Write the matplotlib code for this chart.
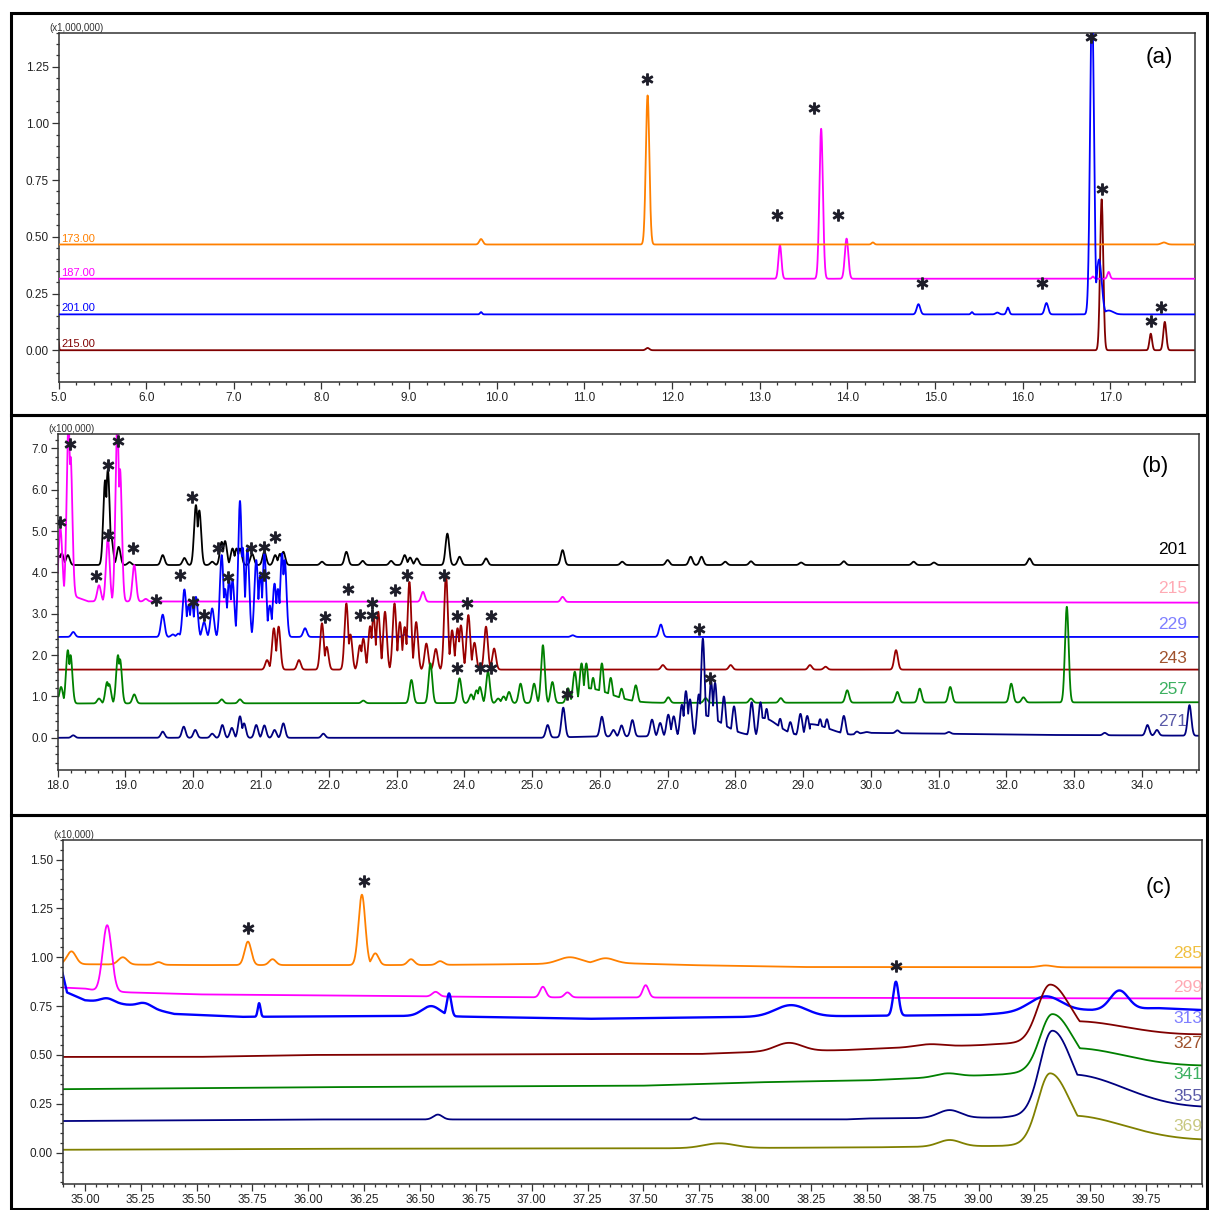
import numpy as np
import matplotlib
matplotlib.use("Agg")
import matplotlib.pyplot as plt
from matplotlib.patches import Rectangle
from matplotlib.ticker import MultipleLocator, FixedLocator, FormatStrFormatter

plt.rcParams['font.family'] = ['Liberation Sans Narrow', 'Liberation Sans', 'DejaVu Sans']

# ---------------- panel (a): m/z 173-215, x1,000,000 ----------------
a_channels = ['173.00', '187.00', '201.00', '215.00']
a_colors = ['#ff8000', '#ff00ff', '#0000ff', '#800000']
a_base = [0.466, 0.315, 0.158, 0.0]
# (retention time, apex signal, sigma[, sigma right])
a_peaks = [
    [(9.82, 0.49, 0.02), (11.72, 1.123, 0.02), (14.29, 0.475, 0.015), (17.61, 0.475, 0.03)],
    [(13.23, 0.463, 0.017), (13.70, 0.976, 0.02), (13.99, 0.492, 0.02),
     (16.80, 0.325, 0.012), (16.98, 0.345, 0.015)],
    [(9.82, 0.168, 0.012), (14.81, 0.203, 0.02), (15.42, 0.168, 0.012), (15.71, 0.166, 0.02),
     (15.83, 0.188, 0.015), (16.27, 0.208, 0.02), (16.79, 1.55, 0.022), (16.87, 0.40, 0.03),
     (16.98, 0.175, 0.05)],
    [(5.0, 0.04, 0.005), (11.72, 0.01, 0.02), (16.90, 0.665, 0.018), (17.46, 0.073, 0.015),
     (17.62, 0.125, 0.017)],
]
a_stars_x = [11.71, 13.62, 13.20, 13.89, 14.85, 16.22, 16.78, 16.90, 17.46, 17.58]
a_stars_y = [1.194, 1.069, 0.595, 0.595, 0.295, 0.295, 1.379, 0.712, 0.129, 0.191]

# ---------------- panel (b): m/z 201-271, x100,000 ----------------
b_channels = ['201', '215', '229', '243', '257', '271']
b_colors = ['#000000', '#ff00ff', '#0000ff', '#990000', '#008000', '#000080']
b_label_colors = ['#000000', '#ffaab4', '#7f7fff', '#a0522d', '#3cb060', '#5a5aa8']
b_knots = [
    [(18.0, 4.18), (34.84, 4.18)],
    [(18.0, 3.45), (18.2, 3.45), (18.45, 3.30), (34.84, 3.27)],
    [(18.0, 2.44), (34.84, 2.44)],
    [(18.0, 1.65), (34.84, 1.65)],
    [(18.0, 0.83), (24.0, 0.84), (34.84, 0.86)],
    [(18.0, 0.0), (25.1, 0.0), (25.9, 0.03), (29.7, 0.05), (29.9, 0.12), (31.0, 0.10),
     (32.5, 0.07), (34.84, 0.05)],
]
b_peaks = [
    [(18.02, 4.40), (18.06, 4.46), (18.15, 4.42), (18.70, 6.23), (18.74, 6.48), (18.79, 4.85),
     (18.90, 4.62), (19.06, 4.25), (19.55, 4.42), (19.87, 4.35), (20.04, 5.63), (20.09, 5.50),
     (20.28, 4.26), (20.42, 4.74), (20.47, 4.76), (20.58, 4.58), (20.64, 4.58), (20.69, 4.58),
     (20.87, 4.45), (21.05, 4.50), (21.21, 4.42), (21.28, 4.45), (21.33, 4.50), (21.90, 4.26),
     (22.26, 4.50), (22.50, 4.28), (22.92, 4.28), (23.12, 4.42), (23.20, 4.36), (23.30, 4.34),
     (23.75, 4.94), (23.93, 4.38), (24.32, 4.34), (25.45, 4.54), (26.33, 4.26), (27.00, 4.30),
     (27.34, 4.38), (27.50, 4.38), (27.85, 4.26), (28.23, 4.27), (28.97, 4.24), (29.60, 4.27),
     (30.63, 4.26), (30.93, 4.24), (32.34, 4.34)],
    [(18.04, 5.06), (18.16, 7.6), (18.19, 6.8), (18.61, 3.69), (18.74, 4.82), (18.88, 7.6),
     (18.92, 6.5), (19.13, 4.18), (19.30, 3.36), (23.39, 3.53), (25.45, 3.41)],
    [(18.23, 2.56), (19.55, 2.98), (19.70, 2.50), (19.78, 2.52), (19.87, 3.59), (19.93, 3.20),
     (19.98, 3.29), (20.04, 3.41), (20.16, 2.80), (20.28, 3.13), (20.42, 4.42), (20.47, 3.60),
     (20.53, 3.81), (20.58, 3.80), (20.69, 5.73), (20.73, 4.60), (20.80, 4.58), (20.93, 4.30),
     (20.99, 3.94), (21.05, 4.46), (21.13, 3.20), (21.20, 3.73), (21.25, 3.60), (21.31, 4.46),
     (21.35, 4.30), (21.65, 2.65), (23.12, 2.50), (25.60, 2.48), (26.90, 2.74)],
    [(21.09, 1.88), (21.19, 2.65), (21.26, 2.69), (21.56, 1.88), (21.90, 2.77), (21.97, 2.20),
     (22.26, 3.25), (22.32, 2.50), (22.46, 2.24), (22.51, 2.40), (22.61, 2.70), (22.66, 2.97),
     (22.73, 3.05), (22.83, 3.05), (22.97, 3.25), (23.05, 2.80), (23.12, 2.68), (23.19, 3.77),
     (23.29, 2.80), (23.44, 2.28), (23.58, 2.15), (23.73, 3.94), (23.82, 2.60), (23.90, 2.65),
     (23.95, 2.72), (24.06, 2.97), (24.15, 2.30), (24.32, 2.69), (24.44, 2.16), (26.93, 1.76),
     (27.93, 1.76), (29.10, 1.76), (29.33, 1.72), (30.37, 2.12)],
    [(18.01, 1.00), (18.05, 1.23), (18.15, 2.12), (18.19, 2.00), (18.61, 0.95), (18.73, 1.35),
     (18.76, 1.30), (18.89, 2.00), (18.92, 1.90), (19.13, 1.05), (20.42, 0.93), (20.69, 0.93),
     (22.51, 0.90), (23.22, 1.40), (23.50, 1.80), (23.93, 1.44), (24.10, 1.05), (24.18, 1.15),
     (24.23, 1.23), (24.35, 1.60), (24.50, 0.95), (24.58, 1.00), (24.66, 1.11), (24.83, 1.31),
     (25.03, 1.31), (25.16, 2.24), (25.30, 1.35), (25.53, 1.20), (25.63, 1.60), (25.73, 1.80),
     (25.80, 1.80), (25.90, 1.45), (26.03, 1.80), (26.16, 1.45), (26.32, 1.19), (26.53, 1.27),
     (25.80, 1.20, 0.35), (27.01, 0.98), (27.56, 0.96), (28.23, 0.95), (28.67, 0.96),
     (29.65, 1.15), (30.39, 1.11), (30.72, 1.19), (31.17, 1.23), (32.07, 1.31), (32.25, 0.98),
     (32.89, 3.17)],
    [(18.23, 0.06), (19.55, 0.15), (19.86, 0.27), (20.03, 0.19), (20.28, 0.10), (20.43, 0.31),
     (20.57, 0.24), (20.69, 0.52), (20.75, 0.35), (20.93, 0.31), (21.05, 0.30), (21.20, 0.19),
     (21.33, 0.35), (21.92, 0.10), (25.23, 0.31), (25.46, 0.73), (26.03, 0.51), (26.20, 0.19),
     (26.32, 0.30), (26.48, 0.43), (26.77, 0.44), (26.89, 0.36), (27.01, 0.56), (27.09, 0.52),
     (27.21, 0.80), (27.27, 1.13), (27.33, 0.93), (27.46, 1.05), (27.52, 2.40), (27.64, 1.38),
     (27.70, 1.33), (27.83, 1.00), (27.98, 0.76), (28.24, 0.86), (28.37, 0.86), (28.46, 0.70),
     (28.66, 0.46), (28.81, 0.38), (28.96, 0.58), (29.06, 0.53), (29.25, 0.45), (29.35, 0.45),
     (29.60, 0.53), (29.79, 0.15), (29.94, 0.14), (27.50, 0.55, 0.30), (28.40, 0.48, 0.22),
     (29.10, 0.33, 0.28), (30.39, 0.18), (31.15, 0.14), (33.45, 0.12), (34.08, 0.31),
     (34.22, 0.19), (34.70, 0.79)],
]
b_stars_x = [18.03, 18.18, 18.74, 18.74, 18.89, 18.57, 19.11, 19.45, 19.81, 19.98, 19.99,
             20.16, 20.36, 20.51, 20.86, 21.05, 21.05, 21.21, 21.94, 22.29, 22.46, 22.64,
             22.64, 22.98, 23.15, 23.70, 23.89, 24.04, 24.39, 23.89, 24.23, 24.39, 25.52,
             27.46, 27.63]
b_stars_y = [5.21, 7.10, 6.61, 4.90, 7.18, 3.91, 4.58, 3.33, 3.95, 5.83, 3.29,
             2.98, 4.58, 3.90, 4.58, 4.62, 3.94, 4.86, 2.93, 3.61, 2.98, 2.98,
             3.27, 3.57, 3.95, 3.95, 2.94, 3.27, 2.94, 1.68, 1.68, 1.68, 1.05,
             2.63, 1.44]

# ---------------- panel (c): m/z 285-369, x10,000 ----------------
c_channels = ['285', '299', '313', '327', '341', '355', '369']
c_colors = ['#ff8000', '#ff00ff', '#0000ff', '#800000', '#008000', '#000080', '#808000']
c_label_colors = ['#f0c040', '#ffaab4', '#7f7fff', '#a0522d', '#3cb060', '#5a5aa8', '#c8c880']
c_knots = [
    [(34.9, 0.965), (35.5, 0.96), (36.5, 0.96), (37.0, 0.965), (37.4, 0.97), (37.7, 0.96),
     (38.2, 0.95), (40.0, 0.948)],
    [(34.9, 0.845), (35.0, 0.84), (35.05, 0.83), (35.2, 0.82), (35.5, 0.81), (36.0, 0.805),
     (37.0, 0.795), (40.0, 0.789)],
    [(34.9, 0.92), (34.92, 0.82), (35.0, 0.78), (35.25, 0.75), (35.4, 0.71), (35.7, 0.695),
     (36.5, 0.70), (37.25, 0.685), (38.0, 0.695), (38.5, 0.70), (39.0, 0.705), (39.2, 0.72),
     (39.8, 0.74), (40.0, 0.73)],
    [(34.9, 0.49), (35.5, 0.49), (36.0, 0.50), (37.25, 0.505), (37.75, 0.505), (38.0, 0.515),
     (38.4, 0.525), (38.6, 0.535), (39.0, 0.55), (39.15, 0.56), (40.0, 0.60)],
    [(34.9, 0.325), (36.0, 0.335), (37.0, 0.34), (37.5, 0.343), (38.0, 0.36), (38.5, 0.37),
     (39.1, 0.40), (39.2, 0.41), (40.0, 0.44)],
    [(34.9, 0.162), (35.4, 0.165), (36.0, 0.17), (38.4, 0.17), (38.5, 0.175), (39.1, 0.18),
     (39.2, 0.19), (40.0, 0.225)],
    [(34.9, 0.015), (36.0, 0.02), (37.5, 0.022), (38.5, 0.027), (39.1, 0.035), (39.2, 0.04),
     (40.0, 0.06)],
]
c_peaks = [
    [(34.94, 1.03, 0.02), (35.17, 1.00, 0.02), (35.33, 0.975, 0.015), (35.73, 1.08, 0.015),
     (35.84, 0.99, 0.015), (36.24, 1.32, 0.015), (36.30, 1.02, 0.015), (36.46, 0.99, 0.015),
     (36.59, 0.98, 0.015), (37.17, 1.00, 0.05), (37.33, 0.995, 0.04), (39.30, 0.958, 0.03)],
    [(35.10, 1.164, 0.02), (36.57, 0.823, 0.015), (37.05, 0.849, 0.013), (37.16, 0.82, 0.013),
     (37.51, 0.857, 0.013)],
    [(35.10, 0.79, 0.03), (35.27, 0.765, 0.03), (35.78, 0.765, 0.006), (36.55, 0.75, 0.04),
     (36.63, 0.815, 0.01), (38.16, 0.755, 0.07), (38.63, 0.875, 0.012), (39.30, 0.80, 0.07),
     (39.63, 0.83, 0.04)],
    [(38.15, 0.562, 0.06), (38.78, 0.555, 0.06), (39.32, 0.86, 0.055, 0.09),
     (39.40, 0.672, 0.25)],
    [(38.86, 0.406, 0.05), (39.33, 0.709, 0.055, 0.09), (39.40, 0.535, 0.25)],
    [(36.58, 0.195, 0.02), (37.73, 0.18, 0.01), (38.87, 0.218, 0.05),
     (39.33, 0.624, 0.055, 0.09), (39.40, 0.40, 0.25)],
    [(37.84, 0.048, 0.07), (38.87, 0.065, 0.05), (39.32, 0.406, 0.055, 0.09),
     (39.40, 0.19, 0.25)],
]
c_stars_x = [35.73, 36.25, 38.63]
c_stars_y = [1.15, 1.39, 0.956]


def build_trace(x, knots, peaks, sigma):
    kx = [k[0] for k in knots]
    ky = [k[1] for k in knots]
    base = np.interp(x, kx, ky)
    y = base.copy()
    for p in peaks:
        rt, apex = p[0], p[1]
        sl = p[2] if len(p) > 2 else sigma
        sr = p[3] if len(p) > 3 else sl
        s = np.where(x < rt, sl, sr)
        h = apex - np.interp(rt, kx, ky)
        # tail peaks only lift the trace on the right of the main one
        prof = base + h * np.exp(-0.5 * ((x - rt) / s) ** 2)
        if len(p) == 3 and sl >= 0.2:
            prof = np.where(x < rt, base, prof)
        y = np.maximum(y, prof)
    return y


def style_axes(ax, xlim, ylim, xmaj, xmin, ymaj, ymin, xfmt, yfmt):
    ax.set_xlim(*xlim)
    ax.set_ylim(*ylim)
    ax.xaxis.set_major_locator(FixedLocator(xmaj))
    ax.xaxis.set_minor_locator(MultipleLocator(xmin))
    ax.yaxis.set_major_locator(FixedLocator(ymaj))
    ax.yaxis.set_minor_locator(MultipleLocator(ymin))
    ax.xaxis.set_major_formatter(FormatStrFormatter(xfmt))
    ax.yaxis.set_major_formatter(FormatStrFormatter(yfmt))
    ax.tick_params(which='both', direction='out', color='#333333', width=0.9, labelsize=8.5,
                   labelcolor='#222222', pad=2)
    ax.tick_params(which='major', length=5)
    ax.tick_params(which='minor', length=2.5)
    for sp in ax.spines.values():
        sp.set_color('#333333')
        sp.set_linewidth(1.1)


def stars(ax, sx, sy):
    ax.plot(sx, sy, ls='none', marker='$\\ast$', ms=8, color='#1e1e2a', zorder=5)


fig = plt.figure(figsize=(12.09, 12.10), dpi=100)

# panel frames
for y0, h in [(0.657, 0.3323), (0.3264, 0.3306), (0.0012, 0.3252)]:
    fig.add_artist(Rectangle((0.0091, y0), 0.9892, h, transform=fig.transFigure,
                             fill=False, lw=2.2, ec='black'))

# (a)
ax = fig.add_axes([0.0484, 0.6843, 0.9404, 0.2888])
x = np.linspace(5.0, 17.97, 6000)
for i in range(len(a_channels)):
    knots = [(5.0, a_base[i]), (17.97, a_base[i])]
    y = build_trace(x, knots, a_peaks[i], 0.02)
    ax.plot(x, y, color=a_colors[i], lw=1.3, zorder=4 - i if i != 2 else 4)
    ax.text(5.03, a_base[i] + 0.004, a_channels[i], color=a_colors[i], fontsize=8,
            ha='left', va='bottom')
stars(ax, a_stars_x, a_stars_y)
style_axes(ax, (5.0, 17.97), (-0.14, 1.40), np.arange(5, 18), 0.2,
           [0, 0.25, 0.5, 0.75, 1.0, 1.25], 0.05, '%.1f', '%.2f')
ax.text(-0.008, 1.0, '(x1,000,000)', transform=ax.transAxes, fontsize=7,
        color='#333333', ha='left', va='bottom')
ax.text(0.968, 0.93, '(a)', transform=ax.transAxes, fontsize=16, ha='center', va='center')

# (b)
ax = fig.add_axes([0.0477, 0.3636, 0.9440, 0.2774])
x = np.linspace(18.0, 34.84, 8000)
b_label_y = [4.56, 3.60, 2.75, 1.93, 1.18, 0.40]
for i in range(len(b_channels)):
    y = build_trace(x, b_knots[i], b_peaks[i], 0.027)
    ax.plot(x, y, color=b_colors[i], lw=1.3)
    ax.text(34.67, b_label_y[i], b_channels[i], color=b_label_colors[i],
            fontsize=12.5, ha='right', va='center')
stars(ax, b_stars_x, b_stars_y)
style_axes(ax, (18.0, 34.84), (-0.78, 7.34), np.arange(18, 35), 0.2,
           np.arange(0, 8), 0.2, '%.1f', '%.1f')
ax.text(-0.008, 1.0, '(x100,000)', transform=ax.transAxes, fontsize=7,
        color='#333333', ha='left', va='bottom')
ax.text(0.962, 0.905, '(b)', transform=ax.transAxes, fontsize=16, ha='center', va='center')

# (c)
ax = fig.add_axes([0.0517, 0.0212, 0.9425, 0.2846])
x = np.linspace(34.9, 40.0, 8000)
c_label_y = [1.02, 0.847, 0.689, 0.56, 0.40, 0.29, 0.136]
for i in range(len(c_channels)):
    y = build_trace(x, c_knots[i], c_peaks[i], 0.02)
    ax.plot(x, y, color=c_colors[i], lw=1.7 if i == 2 else 1.3)
for i in range(len(c_channels)):
    ax.text(40.0, c_label_y[i], c_channels[i], color=c_label_colors[i],
            fontsize=12.5, ha='right', va='center', clip_on=False, zorder=6)
stars(ax, c_stars_x, c_stars_y)
style_axes(ax, (34.9, 40.0), (-0.162, 1.6), np.arange(35.0, 39.8, 0.25), 0.05,
           [0, 0.25, 0.5, 0.75, 1.0, 1.25, 1.5], 0.05, '%.2f', '%.2f')
ax.text(-0.008, 1.0, '(x10,000)', transform=ax.transAxes, fontsize=7,
        color='#333333', ha='left', va='bottom')
ax.text(0.962, 0.862, '(c)', transform=ax.transAxes, fontsize=16, ha='center', va='center')

plt.savefig("out.png", dpi=100)
